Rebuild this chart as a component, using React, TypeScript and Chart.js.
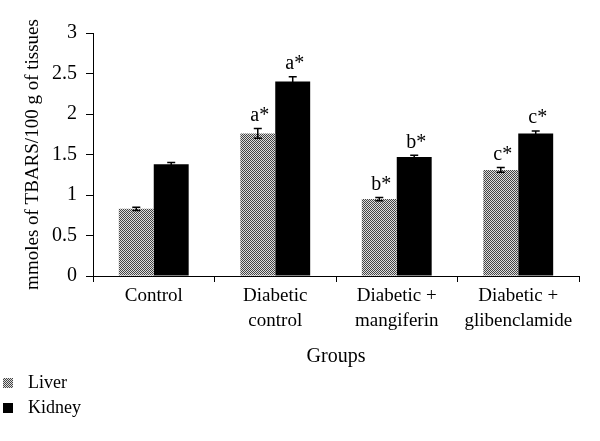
import React, { useEffect, useRef } from 'react';
import { Chart, registerables } from 'chart.js';

Chart.register(...registerables);

const categories: string[][] = [
  ['Control'],
  ['Diabetic', 'control'],
  ['Diabetic +', 'mangiferin'],
  ['Diabetic +', 'glibenclamide'],
];
const seriesNames = ['Liver', 'Kidney'];
const liverValues = [0.83, 1.76, 0.95, 1.31];
const kidneyValues = [1.38, 2.4, 1.47, 1.76];
const liverErrors = [0.02, 0.06, 0.02, 0.03];
const kidneyErrors = [0.02, 0.06, 0.02, 0.03];
const liverMarks = ['', 'a*', 'b*', 'c*'];
const kidneyMarks = ['', 'a*', 'b*', 'c*'];
const yMin = 0;
const yMax = 3;
const yStep = 0.5;
const yTitle = 'mmoles of TBARS/100 g of tissues';
const xTitle = 'Groups';

const FONT = "'Liberation Serif', 'DejaVu Serif', serif";

function makePattern(): CanvasPattern | string {
  const c = document.createElement('canvas');
  c.width = 4;
  c.height = 4;
  const ctx = c.getContext('2d');
  if (!ctx) return '#888';
  for (let x = 0; x < 4; x++) {
    for (let y = 0; y < 4; y++) {
      ctx.fillStyle = (x + y) % 2 === 0 ? '#444444' : '#dedede';
      ctx.fillRect(x, y, 1, 1);
    }
  }
  const p = ctx.createPattern(c, 'repeat');
  return p || '#888';
}

export default function App() {
  const ref = useRef<HTMLCanvasElement | null>(null);

  useEffect(() => {
    if (!ref.current) return;
    const liverFill = makePattern();
    const errors = [liverErrors, kidneyErrors];
    const marks = [liverMarks, kidneyMarks];

    const errorPlugin = {
      id: 'errorBarsAndMarks',
      afterDatasetsDraw(chart: any) {
        const ctx = chart.ctx;
        const yScale = chart.scales.y;
        chart.data.datasets.forEach((ds: any, i: number) => {
          const meta = chart.getDatasetMeta(i);
          meta.data.forEach((bar: any, j: number) => {
            const v = ds.data[j];
            const e = errors[i][j];
            const x = bar.x;
            const yTop = yScale.getPixelForValue(v + e);
            const yBot = yScale.getPixelForValue(v - e);
            ctx.save();
            ctx.strokeStyle = '#000';
            ctx.lineWidth = 1.5;
            ctx.beginPath();
            ctx.moveTo(x, yTop);
            ctx.lineTo(x, yBot);
            ctx.moveTo(x - 4, yTop);
            ctx.lineTo(x + 4, yTop);
            ctx.moveTo(x - 4, yBot);
            ctx.lineTo(x + 4, yBot);
            ctx.stroke();
            const m = marks[i][j];
            if (m) {
              ctx.fillStyle = '#000';
              ctx.font = `20px ${FONT}`;
              ctx.textAlign = 'center';
              ctx.textBaseline = 'bottom';
              ctx.fillText(m, x + 2, yTop - 3);
            }
            ctx.restore();
          });
        });
      },
    };

    const legendPlugin = {
      id: 'verticalLegend',
      afterDraw(chart: any) {
        const ctx = chart.ctx;
        ctx.save();
        chart.data.datasets.forEach((ds: any, i: number) => {
          const cy = 383 + i * 25;
          ctx.fillStyle = ds.backgroundColor;
          ctx.fillRect(3, cy - 5, 10, 10);
          ctx.fillStyle = '#000';
          ctx.font = `18px ${FONT}`;
          ctx.textAlign = 'left';
          ctx.textBaseline = 'middle';
          ctx.fillText(ds.label, 28, cy);
        });
        ctx.restore();
      },
    };

    const chart = new Chart(ref.current, {
      type: 'bar',
      data: {
        labels: categories,
        datasets: [
          {
            label: seriesNames[0],
            data: liverValues,
            backgroundColor: liverFill as any,
            borderWidth: 0,
            categoryPercentage: 0.575,
            barPercentage: 1,
          },
          {
            label: seriesNames[1],
            data: kidneyValues,
            backgroundColor: '#000',
            borderWidth: 0,
            categoryPercentage: 0.575,
            barPercentage: 1,
          },
        ],
      },
      options: {
        animation: false,
        responsive: true,
        maintainAspectRatio: false,
        layout: { padding: { top: 33, right: 21, bottom: 72, left: 0 } },
        plugins: {
          legend: { display: false },
          tooltip: { enabled: false },
        },
        scales: {
          x: {
            afterFit(scale: any) {
              scale.height = 93;
            },
            grid: {
              display: true,
              drawOnChartArea: false,
              drawTicks: true,
              tickLength: 6,
              color: '#000',
              offset: true,
            },
            border: { display: true, color: '#000', width: 1 },
            ticks: {
              color: '#000',
              font: { family: FONT, size: 19, lineHeight: 1.3 },
              padding: 2,
              maxRotation: 0,
              autoSkip: false,
            },
            title: {
              display: true,
              text: xTitle,
              color: '#000',
              font: { family: FONT, size: 20 },
              padding: { top: 0, bottom: 0 },
            },
          },
          y: {
            min: yMin,
            max: yMax,
            afterFit(scale: any) {
              scale.width = 93;
            },
            grid: {
              display: true,
              drawOnChartArea: false,
              drawTicks: true,
              tickLength: 7,
              color: '#000',
            },
            border: { display: true, color: '#000', width: 1 },
            ticks: {
              stepSize: yStep,
              color: '#000',
              font: { family: FONT, size: 20 },
              padding: 9,
              callback: (v: any) => String(v),
            },
            title: {
              display: true,
              text: yTitle,
              color: '#000',
              font: { family: FONT, size: 19 },
              padding: { top: 22, bottom: 0 },
            },
          },
        },
      },
      plugins: [errorPlugin, legendPlugin],
    });
    return () => chart.destroy();
  }, []);

  return (
    <div style={{ position: 'absolute', left: 0, top: 0, width: 600, height: 441, background: '#fff' }}>
      <canvas ref={ref} />
    </div>
  );
}
